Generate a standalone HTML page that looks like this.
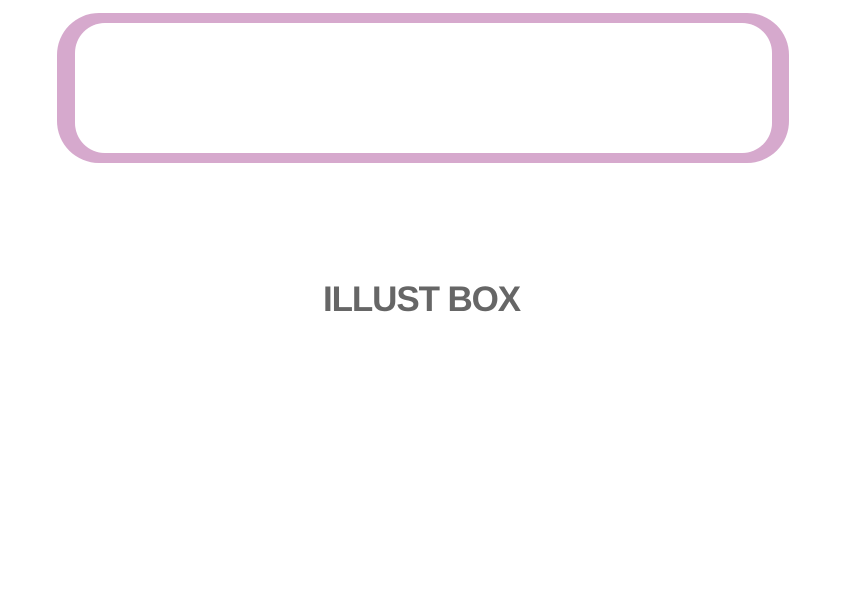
<!DOCTYPE html>
<html><head><style>
html,body{margin:0;padding:0;background:#fff;width:842px;height:595px;overflow:hidden;position:relative}
.o{position:absolute;left:57px;top:13px;width:732px;height:150px;background:#d6a9cd;border-radius:42px}
.i{position:absolute;left:75px;top:23px;width:697px;height:130px;background:#fff;border-radius:30px}
.t{position:absolute;left:323px;top:280px;font-family:"Liberation Sans",sans-serif;font-weight:bold;font-size:35px;letter-spacing:-1.1px;color:#666;line-height:40px;white-space:nowrap}
</style></head><body>
<div class="o"></div><div class="i"></div>
<div class="t">ILLUST BOX</div>
</body></html>
